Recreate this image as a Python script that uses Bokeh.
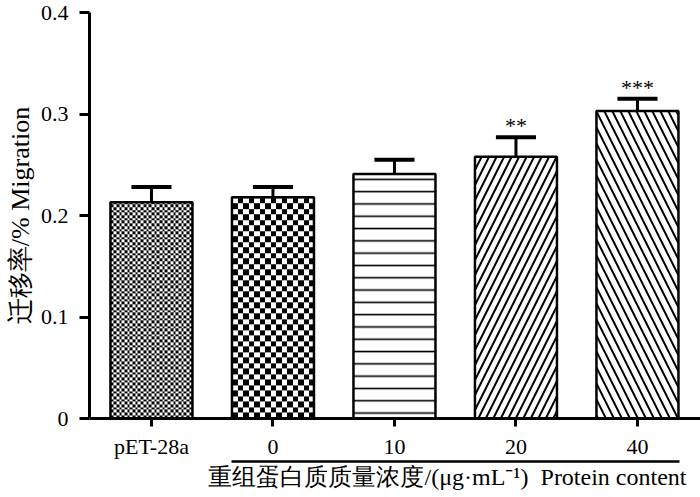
import numpy as np
from bokeh.plotting import figure
from bokeh.models import (ColumnDataSource, FixedTicker, LinearAxis, Range1d, Title)
from bokeh.embed import file_html
from bokeh.resources import INLINE
from bokeh.core.properties import value

# ---- data ----
groups = ["pET-28a", "0", "10", "20", "40"]
migration = [0.213, 0.218, 0.241, 0.258, 0.303]
sem = [0.015, 0.010, 0.014, 0.019, 0.012]
stars = ["", "", "", "**", "***"]
y_ticks = [0, 0.1, 0.2, 0.3, 0.4]
y_tick_labels = ["0", "0.1", "0.2", "0.3", "0.4"]
x_title = "重组蛋白质质量浓度/(μg·mL⁻¹)\u00a0\u00a0Protein content"
y_title = "迁移率/% Migration"

FONT = "Liberation Serif"
xs = list(range(len(groups)))

# ---- layout constants ----
W, H = 700, 497
LEFT, TOP = 89, 12
FW, FH = W - LEFT, 406
X0 = -0.51
X1 = X0 + FW / 121.5
Y0, Y1 = 0.0, 0.4
BW = 0.675
px_x = FW / (X1 - X0)
px_y = FH / (Y1 - Y0)

p = figure(width=W, height=H, output_backend="svg", toolbar_location=None,
           x_range=Range1d(X0, X1), y_range=Range1d(Y0, Y1),
           min_border_left=LEFT, min_border_right=0, min_border_top=TOP,
           min_border_bottom=H - TOP - FH)
p.outline_line_color = None
p.grid.visible = False
p.background_fill_color = "white"
p.border_fill_color = "white"

# x axis
xa = p.xaxis[0]
xa.ticker = FixedTicker(ticks=xs)
xa.major_label_overrides = {i: g for i, g in zip(xs, groups)}
xa.axis_line_width = 3
xa.major_tick_line_width = 3
xa.major_tick_in = 0
xa.major_tick_out = 8
xa.minor_tick_line_color = None
xa.major_label_text_font = FONT
xa.major_label_text_font_size = "22px"
xa.major_label_text_color = "black"
xa.major_label_standoff = 7

# y axis
ya = p.yaxis[0]
ya.ticker = FixedTicker(ticks=y_ticks)
ya.major_label_overrides = {t: l for t, l in zip(y_ticks, y_tick_labels)}
ya.axis_line_width = 3
ya.major_tick_line_width = 3
ya.major_tick_in = 0
ya.major_tick_out = 10
ya.minor_tick_line_color = None
ya.major_label_text_font = FONT
ya.major_label_text_font_size = "22px"
ya.major_label_text_color = "black"
ya.major_label_standoff = 11
ya.axis_label = y_title
ya.axis_label_text_font = FONT
ya.axis_label_text_font_size = "26px"
ya.axis_label_text_font_style = "normal"
ya.axis_label_text_color = "black"
ya.axis_label_standoff = 3

# underline axis for the concentration groups
ua = LinearAxis(bounds=(1 - BW / 2, 4.35), ticker=FixedTicker(ticks=[]))
ua.axis_line_width = 2.5
ua.major_tick_line_color = None
ua.minor_tick_line_color = None
ua.major_label_text_font_size = "0px"
p.add_layout(ua, "below")

# bottom title
p.add_layout(Title(text=x_title, align="right", text_font=FONT,
                   text_font_size="24px", text_font_style="normal",
                   text_color="black", standoff=0, offset=14), "below")

# checker bars (images)
def checker(nx, ny, c):
    jj, ii = np.meshgrid(np.arange(nx), np.arange(ny))
    on = ((np.floor(ii / c) + np.floor(jj / c)) % 2) == 0
    img = np.empty((ny, nx), dtype=np.uint32)
    view = img.view(dtype=np.uint8).reshape((ny, nx, 4))
    view[..., 0] = np.where(on, 0, 255)
    view[..., 1] = np.where(on, 0, 255)
    view[..., 2] = np.where(on, 0, 255)
    view[..., 3] = 255
    return img

cell_sizes = [2.7, 5.5]
for i, c in enumerate(cell_sizes):
    nx = int(round(BW * px_x))
    ny = int(round(migration[i] * px_y))
    p.image_rgba(image=[checker(nx, ny, c)], x=xs[i] - BW / 2, y=0, dw=BW, dh=migration[i])

p.vbar(x=xs[:2], top=migration[:2], width=BW, bottom=0, fill_color=None,
       line_color="black", line_width=2.5)

hsrc = ColumnDataSource(dict(x=xs[2:], top=migration[2:],
                             pat=["-", "/", "\\"], sc=[12.3, 15, 16],
                             wt=[1.6, 2.0, 2.0]))
p.vbar(x="x", top="top", width=BW, bottom=0, source=hsrc, fill_color="white",
       line_color="black", line_width=2.5, hatch_pattern="pat", hatch_scale="sc",
       hatch_weight="wt", hatch_color="black")

# error bars (upper only)
up = [m + s for m, s in zip(migration, sem)]
p.segment(x0=xs, y0=migration, x1=xs, y1=up, line_color="black", line_width=3)
p.segment(x0=[x - 0.165 for x in xs], y0=up, x1=[x + 0.165 for x in xs], y1=up,
          line_color="black", line_width=4)

# significance stars
p.text(x=xs, y=up, text=stars, text_font=value(FONT), text_font_size="22px",
       text_align="center", text_baseline="bottom", y_offset=1, text_color="black")

open("out.html", "w").write(file_html(p, INLINE))
